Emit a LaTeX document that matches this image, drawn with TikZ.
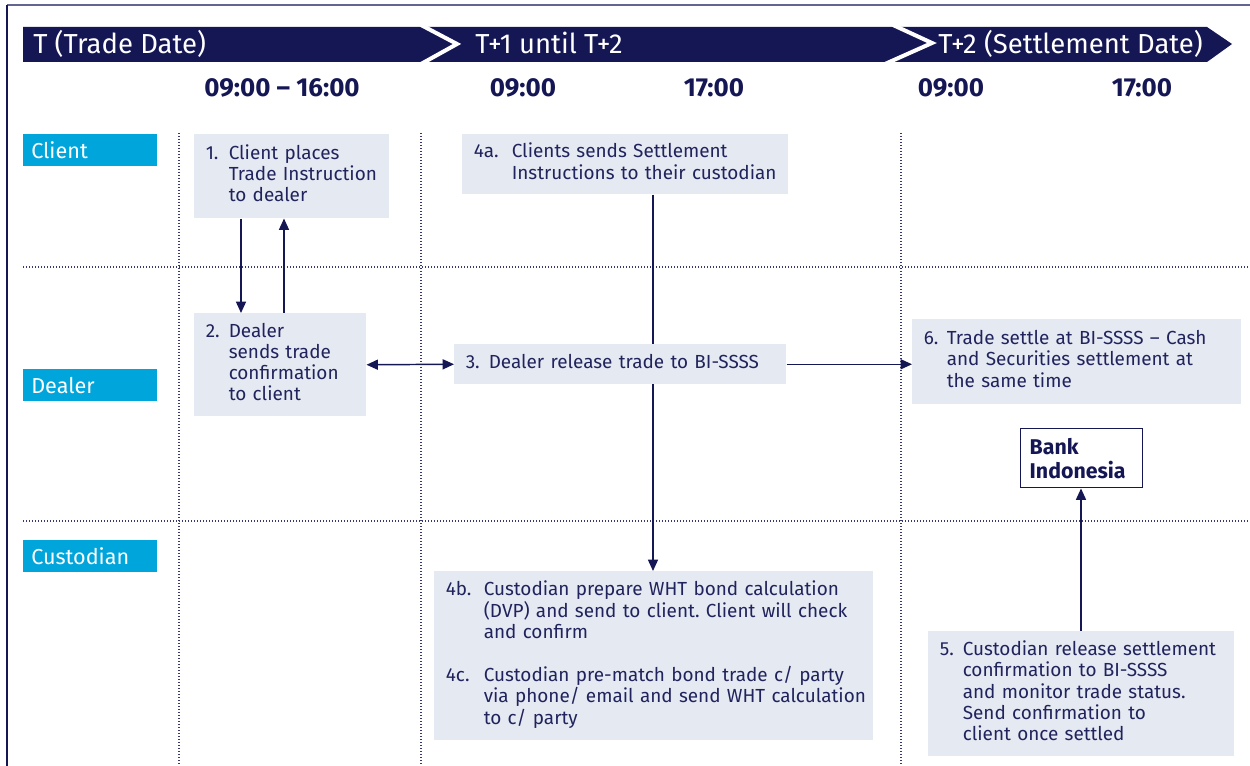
\documentclass[tikz,border=0pt]{standalone}
\usepackage{fontspec}
\setmainfont{Fira Sans}
\usetikzlibrary{arrows.meta,backgrounds}
\definecolor{navy}{RGB}{21,22,84}
\definecolor{framegray}{RGB}{100,102,145}
\definecolor{cyanlab}{RGB}{0,165,220}
\definecolor{boxfill}{RGB}{229,233,242}
\definecolor{txt}{RGB}{33,35,92}
\frenchspacing
\newcommand{\boxfont}{\fontsize{14.2}{15.75}\selectfont}
\newcommand{\nt}[3]{\begin{tabular}{@{}p{#1}@{}l@{}}#2 & #3\end{tabular}}
\newcommand{\pbox}[6]{%
  \pgfmathsetmacro\bw{(#4-#2)*0.75}%
  \pgfmathsetmacro\bh{(#5-#3)*0.75}%
  \pgfmathsetmacro\tw{(#4-#2-23)*0.75}%
  \node[procbox, anchor=north west, minimum width=\bw pt, minimum height=\bh pt, text width=\tw pt] (#1) at (#2,#3) {#6};}
\begin{document}
\begin{tikzpicture}[x=0.75pt,y=-0.75pt,
  conn/.style={draw=navy, line width=1.1pt, -{Triangle[length=8.5pt,width=7.5pt]}},
  dconn/.style={draw=navy, line width=1.1pt, {Triangle[length=8.5pt,width=7.5pt]}-{Triangle[length=8.5pt,width=7.5pt]}},
  dots/.style={draw=navy!85, line width=0.8pt, dash pattern=on 0.75pt off 1.5pt},
  lane/.style={fill=cyanlab, text=white, anchor=north west, inner xsep=6pt, inner ysep=0pt,
    minimum width=100.5pt, minimum height=24pt, text width=88.5pt, align=left,
    font=\fontsize{16.2}{18}\selectfont},
  procbox/.style={fill=boxfill, text=txt, inner xsep=8.625pt, inner ysep=0pt, align=left, font=\boxfont},
  hdr/.style={text=white, anchor=base west, inner sep=0pt, font=\fontsize{20.6}{22}\selectfont},
  time/.style={text=navy, anchor=base, inner sep=0pt, font=\fontsize{19.5}{21}\selectfont\bfseries},
  bank/.style={draw=navy, line width=1.1pt, fill=white, text=navy, anchor=north west,
    minimum width=91.5pt, minimum height=44.25pt, text width=78pt, inner xsep=6.75pt, inner ysep=0pt,
    align=left, font=\fontsize{16}{18}\selectfont\bfseries}
]
\useasboundingbox (0,0) rectangle (1250,766);
% frame
\draw[framegray, line width=1.5pt] (7,5) -- (1250,5);
\draw[navy, line width=1.5pt] (7,5) -- (7,766);
% header band
\fill[navy] (23,27) -- (1207,27) -- (1232,44) -- (1207,62) -- (23,62) -- cycle;
\draw[white, line width=3pt] (421,25) -- (457,44) -- (421,64);
\draw[white, line width=3pt] (893,25) -- (932,43) -- (885,64);
\node[hdr] (h1) at (33,54) {T (Trade Date)};
\node[hdr] (h2) at (475,54) {T+1 until T+2};
\node[hdr] (h3) at (938,54) {T+2 (Settlement Date)};
% times
\node[time] (t1) at (282,97) {09:00 -- 16:00};
\node[time] (t2) at (523,97) {09:00};
\node[time] (t3) at (714,97) {17:00};
\node[time] (t4) at (951,97) {09:00};
\node[time] (t5) at (1142,97) {17:00};
% lanes
\node[lane] (lc) at (23,134) {Client};
\node[lane] (ld) at (23,369) {Dealer};
\node[lane] (lu) at (23,540) {Custodian};
% boxes
\pbox{b1}{194}{134}{389}{218}{\nt{17.25pt}{1.}{Client places\\ & Trade Instruction\\ & to dealer}}
\pbox{b2}{194}{313}{366}{416}{\nt{17.25pt}{2.}{Dealer\\ & sends trade\\ & confirmation\\ & to client}}
\pbox{b4a}{462}{134}{788}{194}{\nt{28.5pt}{4a.}{Clients sends Settlement\\ & Instructions to their custodian}}
\pbox{b3}{454}{344}{786}{384}{\nt{17.25pt}{3.}{Dealer release trade to BI-SSSS}}
\pbox{b6}{912}{319}{1241}{404}{\nt{17.25pt}{6.}{Trade settle at BI-SSSS -- Cash\\ & and Securities settlement at\\ & the same time}}
\pbox{b4bc}{434}{571}{873}{740}{\nt{28.5pt}{4b.}{Custodian prepare WHT bond calculation\\ & (DVP) and send to client. Client will check\\ & and confirm\\ & \\ 4c. & Custodian pre-match bond trade c/ party\\ & via phone/ email and send WHT calculation\\ & to c/ party}}
\pbox{b5}{928}{631}{1234}{756}{\nt{17.25pt}{5.}{Custodian release settlement\\ & confirmation to BI-SSSS\\ & and monitor trade status.\\ & Send confirmation to\\ & client once settled}}
\node[bank] (bi) at (1020,428) {Bank\\Indonesia};
\coordinate (xa) at (241,0);
\coordinate (xb) at (284,0);
\coordinate (xc) at (653,0);
\coordinate (xd) at (1081,0);
\begin{scope}[on background layer]
\draw[dots] (23,267) -- (1250,267);
\draw[dots] (23,521) -- (1250,521);
\draw[dots] (179,133) -- (179,766);
\draw[dots] (421,133) -- (421,766);
\draw[dots] (901,133) -- (901,766);
\draw[conn] (xa |- b1.south) -- (xa |- b2.north);
\draw[conn] (xb |- b2.north) -- (xb |- b1.south);
\draw[dconn] (b2.east) -- (b3.west);
\draw[conn] (b3.east) -- (b3.east -| b6.west);
\draw[conn] (xc |- b4a.south) -- (xc |- b4bc.north);
\draw[conn] (xd |- b5.north) -- (xd |- bi.south);
\end{scope}
\end{tikzpicture}
\end{document}
